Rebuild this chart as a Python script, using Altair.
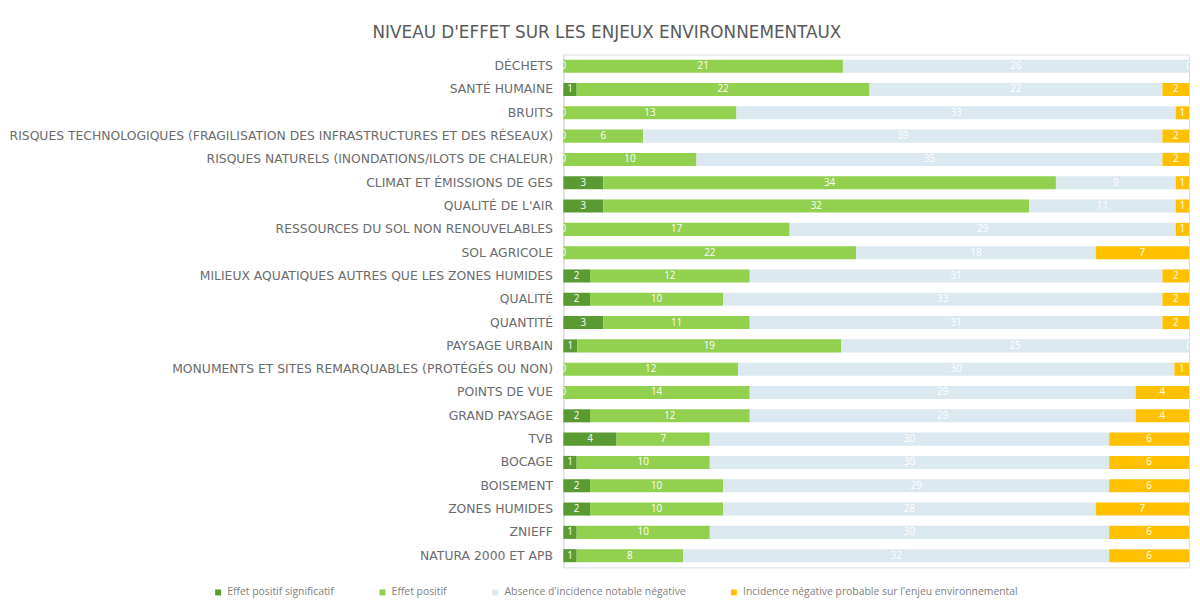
import altair as alt
import pandas as pd

categories = [
    "DÉCHETS",
    "SANTÉ HUMAINE",
    "BRUITS",
    "RISQUES TECHNOLOGIQUES (FRAGILISATION DES INFRASTRUCTURES ET DES RÉSEAUX)",
    "RISQUES NATURELS (INONDATIONS/ILOTS DE CHALEUR)",
    "CLIMAT ET ÉMISSIONS DE GES",
    "QUALITÉ DE L'AIR",
    "RESSOURCES DU SOL NON RENOUVELABLES",
    "SOL AGRICOLE",
    "MILIEUX AQUATIQUES AUTRES QUE LES ZONES HUMIDES",
    "QUALITÉ",
    "QUANTITÉ",
    "PAYSAGE URBAIN",
    "MONUMENTS ET SITES REMARQUABLES (PROTÉGÉS OU NON)",
    "POINTS DE VUE",
    "GRAND PAYSAGE",
    "TVB",
    "BOCAGE",
    "BOISEMENT",
    "ZONES HUMIDES",
    "ZNIEFF",
    "NATURA 2000 ET APB",
]

effet_significatif = [0, 1, 0, 0, 0, 3, 3, 0, 0, 2, 2, 3, 1, 0, 0, 2, 4, 1, 2, 2, 1, 1]
effet_positif = [21, 22, 13, 6, 10, 34, 32, 17, 22, 12, 10, 11, 19, 12, 14, 12, 7, 10, 10, 10, 10, 8]
absence = [26, 22, 33, 39, 35, 9, 11, 29, 18, 31, 33, 31, 25, 30, 29, 29, 30, 30, 29, 28, 30, 32]
negative = [0, 2, 1, 2, 2, 1, 1, 1, 7, 2, 2, 2, 0, 1, 4, 4, 6, 6, 6, 7, 6, 6]

series = [
    "Effet positif significatif",
    "Effet positif",
    "Absence d'incidence notable négative",
    "Incidence négative probable sur l'enjeu environnemental",
]
colors = ["#5a9a33", "#92d050", "#dce9f1", "#ffc000"]

rows = []
for i, cat in enumerate(categories):
    for k, vals in enumerate([effet_significatif, effet_positif, absence, negative]):
        rows.append({"cat": cat, "serie": series[k], "ordre": k, "valeur": vals[i]})
df = pd.DataFrame(rows)

base = alt.Chart(df).transform_stack(
    stack="valeur",
    as_=["v0", "v1"],
    groupby=["cat"],
    sort=[alt.SortField("ordre", order="ascending")],
    offset="normalize",
).transform_calculate(mid="(datum.v0 + datum.v1) / 2")

y_enc = alt.Y(
    "cat:N",
    sort=categories,
    title=None,
    scale=alt.Scale(paddingInner=0.44, paddingOuter=0.22),
    axis=alt.Axis(
        labelFont="DejaVu Sans",
        labelFontSize=12.5,
        labelColor="#6b6b6b",
        labelLimit=700,
        labelPadding=11,
        ticks=False,
        domain=True,
        domainColor="#d9d9d9",
    ),
)

bars = base.mark_bar().encode(
    x=alt.X("v0:Q", axis=None, scale=alt.Scale(domain=[0, 1], nice=False)),
    x2="v1:Q",
    y=y_enc,
    color=alt.Color(
        "serie:N",
        sort=series,
        scale=alt.Scale(domain=series, range=colors),
        legend=alt.Legend(
            title=None,
            orient="none",
            legendX=-354,
            legendY=538,
            direction="horizontal",
            symbolType="square",
            symbolSize=36,
            symbolStrokeWidth=0,
            labelFont="Open Sans",
            labelFontSize=10.5,
            labelColor="#7f7f7f",
            columnPadding=43,
            labelLimit=400,
        ),
    ),
)

labels = base.mark_text(color="white", fontSize=10, font="Open Sans").encode(
    x=alt.X("mid:Q"),
    y=alt.Y("cat:N", sort=categories),
    text="valeur:Q",
)

chart = (
    (bars + labels)
    .properties(
        width=632,
        height=518,
        padding={"top": 13, "left": 0, "right": 0, "bottom": 0},
        title=alt.TitleParams(
            "NIVEAU D'EFFET SUR LES ENJEUX ENVIRONNEMENTAUX",
            font="DejaVu Sans",
            fontSize=17,
            fontWeight="normal",
            color="#595959",
            anchor="middle",
            frame="group",
            offset=13,
            dx=-272,
        ),
    )
    .configure_view(stroke=None)
    .configure(background="white")
)

chart.save("out.html", embed_options={"renderer": "svg", "actions": False})
